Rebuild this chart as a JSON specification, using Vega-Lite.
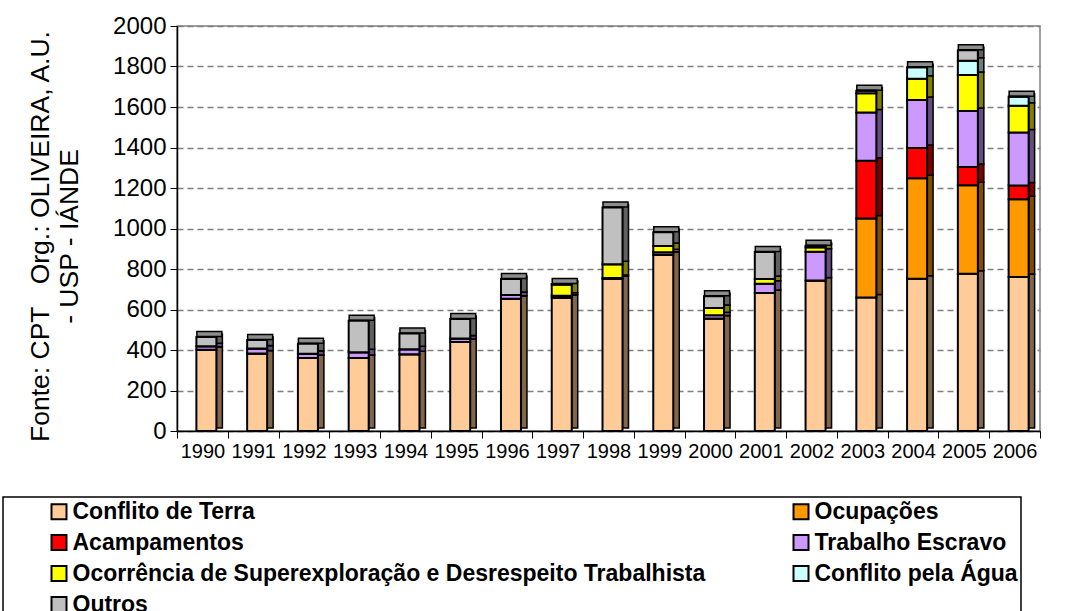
{
  "$schema": "https://vega.github.io/schema/vega-lite/v6.json",
  "width": 863,
  "height": 405,
  "autosize": "none",
  "padding": {"left": 177, "top": 26, "right": 28, "bottom": 180},
  "background": "white",
  "config": {
    "font": "Liberation Sans",
    "view": {"stroke": "#808080", "strokeWidth": 1.5},
    "axisY": {
      "labelFontSize": 24, "labelColor": "black", "labelPadding": 4, "format": "d",
      "tickSize": 7, "tickColor": "black", "domainColor": "black", "domainWidth": 1.5,
      "grid": true, "gridDash": [6, 4], "gridColor": "#7f7f7f", "gridWidth": 1.5,
      "titleFontSize": 26.5, "titleFontWeight": "normal", "titleColor": "black",
      "titleLineHeight": 29, "titlePadding": 29, "titleY": 210
    },
    "axisX": {
      "labelFontSize": 20, "labelColor": "black", "labelAngle": 0, "labelPadding": 3,
      "labelOverlap": false, "tickBand": "extent", "tickSize": 7, "tickColor": "black",
      "domainColor": "black", "domainWidth": 1.5, "grid": false
    },
    "legend": {
      "orient": "none", "legendX": -174, "legendY": 471, "columns": 2, "direction": "horizontal",
      "columnPadding": 42, "rowPadding": 7, "symbolType": "square", "symbolSize": 225,
      "symbolStrokeColor": "black", "symbolStrokeWidth": 2, "labelFontSize": 23,
      "labelFontWeight": "bold", "labelColor": "black", "labelOffset": 2, "labelLimit": 0,
      "strokeColor": "black", "strokeWidth": 1.5, "fillColor": "white", "padding": 3,
      "symbolOffset": 41.5
    }
  },
  "data": {
    "values": [
      {"ano": "1990", "Conflito de Terra": 401, "Ocupações": 0, "Acampamentos": 0, "Trabalho Escravo": 18, "Ocorrência de Superexploração e Desrespeito Trabalhista": 0, "Conflito pela Água": 0, "Outros": 45},
      {"ano": "1991", "Conflito de Terra": 383, "Ocupações": 0, "Acampamentos": 0, "Trabalho Escravo": 24, "Ocorrência de Superexploração e Desrespeito Trabalhista": 0, "Conflito pela Água": 0, "Outros": 42},
      {"ano": "1992", "Conflito de Terra": 361, "Ocupações": 0, "Acampamentos": 0, "Trabalho Escravo": 20, "Ocorrência de Superexploração e Desrespeito Trabalhista": 0, "Conflito pela Água": 0, "Outros": 50},
      {"ano": "1993", "Conflito de Terra": 361, "Ocupações": 0, "Acampamentos": 0, "Trabalho Escravo": 28, "Ocorrência de Superexploração e Desrespeito Trabalhista": 0, "Conflito pela Água": 0, "Outros": 155},
      {"ano": "1994", "Conflito de Terra": 379, "Ocupações": 0, "Acampamentos": 0, "Trabalho Escravo": 25, "Ocorrência de Superexploração e Desrespeito Trabalhista": 0, "Conflito pela Água": 0, "Outros": 78},
      {"ano": "1995", "Conflito de Terra": 440, "Ocupações": 0, "Acampamentos": 0, "Trabalho Escravo": 17, "Ocorrência de Superexploração e Desrespeito Trabalhista": 0, "Conflito pela Água": 0, "Outros": 96},
      {"ano": "1996", "Conflito de Terra": 653, "Ocupações": 0, "Acampamentos": 0, "Trabalho Escravo": 18, "Ocorrência de Superexploração e Desrespeito Trabalhista": 0, "Conflito pela Água": 0, "Outros": 80},
      {"ano": "1997", "Conflito de Terra": 658, "Ocupações": 0, "Acampamentos": 0, "Trabalho Escravo": 10, "Ocorrência de Superexploração e Desrespeito Trabalhista": 55, "Conflito pela Água": 0, "Outros": 3},
      {"ano": "1998", "Conflito de Terra": 751, "Ocupações": 0, "Acampamentos": 0, "Trabalho Escravo": 5, "Ocorrência de Superexploração e Desrespeito Trabalhista": 67, "Conflito pela Água": 0, "Outros": 281},
      {"ano": "1999", "Conflito de Terra": 870, "Ocupações": 0, "Acampamentos": 0, "Trabalho Escravo": 13, "Ocorrência de Superexploração e Desrespeito Trabalhista": 30, "Conflito pela Água": 0, "Outros": 68},
      {"ano": "2000", "Conflito de Terra": 556, "Ocupações": 0, "Acampamentos": 0, "Trabalho Escravo": 15, "Ocorrência de Superexploração e Desrespeito Trabalhista": 37, "Conflito pela Água": 0, "Outros": 57},
      {"ano": "2001", "Conflito de Terra": 681, "Ocupações": 0, "Acampamentos": 0, "Trabalho Escravo": 46, "Ocorrência de Superexploração e Desrespeito Trabalhista": 24, "Conflito pela Água": 0, "Outros": 133},
      {"ano": "2002", "Conflito de Terra": 743, "Ocupações": 0, "Acampamentos": 0, "Trabalho Escravo": 142, "Ocorrência de Superexploração e Desrespeito Trabalhista": 22, "Conflito pela Água": 0, "Outros": 8},
      {"ano": "2003", "Conflito de Terra": 659, "Ocupações": 391, "Acampamentos": 285, "Trabalho Escravo": 238, "Ocorrência de Superexploração e Desrespeito Trabalhista": 95, "Conflito pela Água": 12, "Outros": 0},
      {"ano": "2004", "Conflito de Terra": 752, "Ocupações": 496, "Acampamentos": 150, "Trabalho Escravo": 236, "Ocorrência de Superexploração e Desrespeito Trabalhista": 106, "Conflito pela Água": 56, "Outros": 0},
      {"ano": "2005", "Conflito de Terra": 777, "Ocupações": 437, "Acampamentos": 90, "Trabalho Escravo": 276, "Ocorrência de Superexploração e Desrespeito Trabalhista": 178, "Conflito pela Água": 70, "Outros": 52},
      {"ano": "2006", "Conflito de Terra": 761, "Ocupações": 384, "Acampamentos": 67, "Trabalho Escravo": 262, "Ocorrência de Superexploração e Desrespeito Trabalhista": 132, "Conflito pela Água": 45, "Outros": 0}
    ]
  },
  "transform": [
    {"fold": ["Conflito de Terra", "Ocupações", "Acampamentos", "Trabalho Escravo", "Ocorrência de Superexploração e Desrespeito Trabalhista", "Conflito pela Água", "Outros"], "as": ["tipo", "n"]},
    {"calculate": "indexof(['Conflito de Terra', 'Ocupações', 'Acampamentos', 'Trabalho Escravo', 'Ocorrência de Superexploração e Desrespeito Trabalhista', 'Conflito pela Água', 'Outros'], datum.tipo)", "as": "ordem"}
  ],
  "layer": [
    {
      "mark": {"type": "bar", "width": 6, "xOffset": 17, "yOffset": -3, "stroke": "black", "strokeWidth": 1.5},
      "encoding": {
        "x": {"field": "ano", "type": "ordinal", "scale": {"paddingInner": 0, "paddingOuter": 0}, "title": null},
        "y": {"field": "n", "type": "quantitative", "stack": "zero", "scale": {"domain": [0, 2000]}, "axis": {"values": [0, 200, 400, 600, 800, 1000, 1200, 1400, 1600, 1800, 2000]}, "title": ["Fonte: CPT\u00a0\u00a0\u00a0Org.: OLIVEIRA, A.U.", "- USP - IÁNDE"]},
        "color": {"field": "tipo", "type": "nominal", "legend": null, "scale": {"domain": ["Conflito de Terra", "Ocupações", "Acampamentos", "Trabalho Escravo", "Ocorrência de Superexploração e Desrespeito Trabalhista", "Conflito pela Água", "Outros"], "range": ["#80664c", "#804c00", "#800000", "#664c80", "#808000", "#668080", "#606060"]}},
        "order": {"field": "ordem", "type": "quantitative"}
      }
    },
    {
      "transform": [{"aggregate": [{"op": "sum", "field": "n", "as": "total"}], "groupby": ["ano"]}],
      "mark": {"type": "tick", "orient": "horizontal", "thickness": 5, "size": 25, "color": "#8c8c8c", "stroke": "black", "strokeWidth": 1.5, "xOffset": 7, "yOffset": -3, "opacity": 1},
      "encoding": {
        "x": {"field": "ano", "type": "ordinal", "title": null},
        "y": {"field": "total", "type": "quantitative", "title": ["Fonte: CPT\u00a0\u00a0\u00a0Org.: OLIVEIRA, A.U.", "- USP - IÁNDE"]}
      }
    },
    {
      "mark": {"type": "bar", "width": 20, "xOffset": 4, "stroke": "black", "strokeWidth": 2},
      "encoding": {
        "x": {"field": "ano", "type": "ordinal", "title": null},
        "y": {"field": "n", "type": "quantitative", "stack": "zero", "title": ["Fonte: CPT\u00a0\u00a0\u00a0Org.: OLIVEIRA, A.U.", "- USP - IÁNDE"]},
        "color": {"field": "tipo", "type": "nominal", "title": null, "scale": {"domain": ["Conflito de Terra", "Ocupações", "Acampamentos", "Trabalho Escravo", "Ocorrência de Superexploração e Desrespeito Trabalhista", "Conflito pela Água", "Outros"], "range": ["#ffcc99", "#ff9900", "#ff0000", "#cc99ff", "#ffff00", "#ccffff", "#c0c0c0"]}},
        "order": {"field": "ordem", "type": "quantitative"}
      }
    }
  ],
  "resolve": {"scale": {"color": "independent"}}
}
